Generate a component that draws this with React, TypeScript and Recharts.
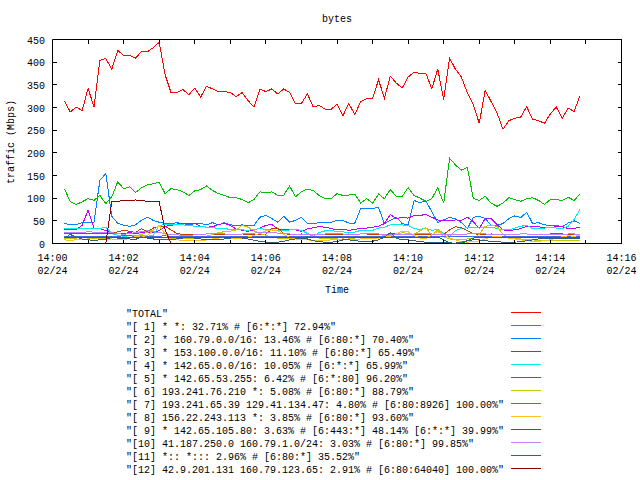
import React from 'react';
import { LineChart, Line, XAxis, YAxis, ReferenceArea } from 'recharts';

// sample times, seconds after 14:00
const times = [
  20, 30, 40, 50, 60, 70, 80, 90, 100, 110, 120, 130, 140, 150, 160, 170, 180, 190, 200, 210,
  220, 230, 240, 250, 260, 270, 280, 290, 300, 310, 320, 330, 340, 350, 360, 370, 380, 390, 400, 410,
  420, 430, 440, 450, 460, 470, 480, 490, 500, 510, 520, 530, 540, 550, 560, 570, 580, 590, 600, 610,
  620, 630, 640, 650, 660, 670, 680, 690, 700, 710, 720, 730, 740, 750, 760, 770, 780, 790, 800, 810,
  820, 830, 840, 850, 860, 870, 880, 890,
];

const xTicks = [0, 60, 120, 180, 240, 300, 360, 420, 480, 540, 600, 660, 720, 780, 840, 900, 960];
const yTicks = [0, 50, 100, 150, 200, 250, 300, 350, 400, 450];
const dateLabel = '02/24';

const legendLabels = [
  '"TOTAL"',
  '"[ 1] * *: 32.71% # [6:*:*] 72.94%"',
  '"[ 2] * 160.79.0.0/16: 13.46% # [6:80:*] 70.40%"',
  '"[ 3] * 153.100.0.0/16: 11.10% # [6:80:*] 65.49%"',
  '"[ 4] * 142.65.0.0/16: 10.05% # [6:*:*] 65.99%"',
  '"[ 5] * 142.65.53.255: 6.42% # [6:*:80] 96.20%"',
  '"[ 6] 193.241.76.210 *: 5.08% # [6:80:*] 88.79%"',
  '"[ 7] 193.241.65.39 129.41.134.47: 4.80% # [6:80:8926] 100.00%"',
  '"[ 8] 156.22.243.113 *: 3.85% # [6:80:*] 93.60%"',
  '"[ 9] * 142.65.105.80: 3.63% # [6:443:*] 48.14% [6:*:*] 39.99%"',
  '"[10] 41.187.250.0 160.79.1.0/24: 3.03% # [6:80:*] 99.85%"',
  '"[11] *:: *::: 2.96% # [6:80:*] 35.52%"',
  '"[12] 42.9.201.131 160.79.123.65: 2.91% # [6:80:64040] 100.00%"',
];

const colors = [
  '#ff0000', '#00c000', '#0080ff', '#c000ff', '#00eeee', '#c04000', '#c8c800',
  '#4169e1', '#ffc020', '#008040', '#c080ff', '#306080', '#8b0000',
];

const total = [
  315, 290, 301, 293, 342, 302, 404, 408, 384, 426, 415, 415, 409, 423, 423, 432, 444, 372, 333, 333,
  340, 328, 343, 323, 347, 341, 335, 335, 333, 324, 333, 315, 301, 341, 335, 341, 330, 341, 333, 308,
  309, 330, 301, 305, 296, 296, 307, 282, 309, 284, 313, 319, 319, 361, 321, 369, 354, 343, 367, 378,
  375, 375, 341, 385, 317, 409, 384, 367, 332, 306, 265, 338, 313, 288, 252, 271, 276, 279, 302, 274,
  271, 265, 286, 301, 276, 299, 291, 326,
];
const s1 = [
  121, 92, 86, 92, 99, 95, 106, 88, 103, 136, 121, 125, 112, 123, 129, 132, 135, 110, 121, 119,
  114, 106, 116, 119, 127, 117, 110, 106, 101, 101, 97, 90, 97, 114, 112, 114, 106, 106, 127, 103,
  114, 120, 117, 106, 99, 99, 110, 106, 107, 109, 89, 99, 89, 109, 99, 119, 104, 104, 123, 106,
  100, 93, 99, 123, 89, 188, 173, 162, 168, 99, 95, 104, 89, 82, 89, 101, 97, 93, 99, 101,
  95, 86, 97, 97, 95, 102, 95, 109,
];
const s2 = [
  44, 42, 42, 46, 46, 47, 140, 154, 60, 45, 40, 38, 41, 51, 58, 51, 47, 44, 44, 46,
  44, 41, 44, 44, 41, 46, 41, 46, 41, 40, 41, 40, 40, 58, 62, 55, 47, 60, 47, 51,
  58, 44, 44, 46, 46, 47, 51, 51, 45, 45, 77, 77, 77, 80, 44, 51, 58, 44, 41, 95,
  90, 94, 70, 46, 52, 58, 54, 46, 33, 58, 60, 55, 40, 40, 44, 55, 61, 57, 69, 44,
  46, 41, 40, 40, 37, 45, 50, 44,
];
const s3 = [
  31, 31, 31, 40, 73, 34, 33, 28, 25, 22, 22, 24, 22, 24, 24, 25, 28, 38, 40, 43,
  45, 45, 45, 38, 36, 37, 42, 44, 40, 32, 29, 27, 30, 34, 40, 42, 32, 31, 31, 30,
  27, 32, 35, 37, 36, 33, 30, 31, 29, 31, 34, 34, 36, 38, 44, 64, 55, 58, 56, 62,
  62, 64, 58, 52, 50, 50, 52, 51, 58, 48, 33, 55, 55, 42, 30, 29, 30, 33, 38, 37,
  37, 35, 35, 37, 37, 33, 33, 36,
];
const s4 = [
  32, 32, 32, 32, 32, 32, 33, 36, 22, 18, 16, 17, 17, 18, 16, 18, 40, 42, 41, 41,
  41, 40, 38, 38, 36, 35, 33, 33, 31, 30, 30, 29, 31, 33, 31, 30, 28, 28, 30, 31,
  29, 22, 16, 24, 28, 28, 27, 26, 23, 25, 29, 29, 29, 34, 36, 41, 41, 41, 40, 33,
  31, 34, 29, 31, 22, 16, 29, 33, 35, 36, 34, 36, 36, 33, 30, 30, 34, 38, 40, 33,
  34, 34, 36, 34, 33, 38, 53, 75,
];
const s5 = [
  21, 21, 21, 21, 21, 21, 21, 21, 22, 26, 29, 27, 24, 33, 26, 34, 38, 38, 30, 22,
  20, 20, 20, 20, 21, 21, 20, 20, 20, 20, 21, 20, 20, 20, 20, 33, 34, 22, 20, 20,
  21, 20, 20, 20, 20, 21, 20, 20, 20, 20, 21, 21, 20, 20, 20, 21, 21, 20, 20, 20,
  21, 20, 20, 20, 20, 30, 37, 35, 28, 22, 20, 20, 21, 20, 20, 20, 20, 21, 21, 20,
  20, 20, 21, 21, 21, 20, 20, 20,
];
const s6 = [
  12, 11, 12, 13, 12, 11, 12, 12, 12, 13, 14, 12, 16, 20, 25, 30, 38, 22, 12, 10,
  10, 11, 12, 14, 16, 20, 24, 26, 27, 30, 40, 36, 28, 22, 18, 14, 12, 12, 11, 12,
  12, 12, 13, 12, 11, 12, 12, 13, 12, 12, 13, 14, 15, 16, 17, 18, 20, 24, 22, 20,
  28, 35, 18, 30, 15, 10, 8, 8, 10, 12, 20, 38, 40, 38, 20, 12, 10, 10, 9, 8,
  7, 7, 7, 7, 7, 7, 7, 7,
];
const s7 = [
  15, 15, 16, 16, 16, 15, 15, 16, 16, 16, 17, 17, 16, 16, 16, 16, 16, 17, 16, 16,
  16, 16, 16, 16, 16, 16, 16, 16, 16, 16, 16, 16, 16, 16, 16, 16, 16, 16, 16, 16,
  16, 16, 16, 16, 16, 16, 16, 16, 16, 16, 16, 16, 16, 16, 16, 16, 16, 16, 16, 16,
  16, 16, 16, 16, 16, 16, 16, 16, 16, 16, 16, 16, 16, 16, 16, 16, 16, 16, 16, 16,
  16, 16, 16, 16, 16, 16, 16, 16,
];
const s8 = [
  8, 7, 8, 9, 8, 7, 8, 9, 10, 9, 8, 12, 15, 14, 18, 28, 40, 20, 9, 8,
  7, 7, 6, 6, 8, 10, 12, 14, 12, 10, 12, 14, 18, 22, 28, 30, 28, 20, 14, 10,
  8, 8, 7, 7, 6, 8, 9, 10, 9, 9, 10, 10, 11, 12, 14, 16, 22, 27, 26, 18,
  12, 10, 20, 26, 20, 12, 8, 4, 3, 4, 6, 10, 14, 16, 14, 12, 10, 8, 6, 5,
  5, 6, 8, 12, 15, 17, 16, 18,
];
const s9 = [
  13, 13, 13, 13, 13, 13, 13, 13, 13, 14, 14, 14, 14, 14, 14, 14, 14, 14, 14, 14,
  14, 14, 14, 14, 14, 14, 14, 14, 14, 14, 14, 14, 14, 14, 14, 14, 14, 14, 14, 14,
  14, 14, 14, 14, 14, 14, 14, 14, 14, 14, 14, 14, 14, 14, 14, 14, 14, 14, 14, 14,
  14, 14, 14, 14, 8, 2, 0, 0, 6, 12, 14, 14, 14, 14, 14, 14, 14, 14, 14, 14,
  14, 14, 14, 14, 14, 14, 14, 14,
];
const s10 = [
  24, 24, 25, 24, 26, 25, 24, 25, 24, 22, 20, 22, 24, 26, 28, 26, 24, 22, 20, 19,
  18, 18, 19, 20, 21, 22, 22, 21, 20, 20, 21, 22, 23, 24, 25, 24, 23, 22, 21, 20,
  20, 19, 19, 20, 21, 22, 22, 21, 20, 20, 21, 22, 22, 21, 20, 20, 19, 19, 20, 21,
  22, 22, 21, 20, 19, 19, 20, 20, 21, 22, 22, 21, 20, 20, 19, 19, 20, 21, 21, 20,
  20, 19, 19, 20, 20, 21, 21, 20,
];
const s11 = [
  12, 20, 14, 10, 8, 7, 8, 10, 13, 12, 11, 10, 9, 14, 12, 10, 8, 8, 9, 10,
  12, 14, 12, 10, 9, 8, 8, 10, 12, 14, 12, 10, 7, 5, 3, 2, 3, 5, 8, 10,
  12, 10, 6, 4, 3, 3, 4, 8, 8, 6, 5, 5, 5, 8, 14, 24, 12, 8, 8, 6,
  4, 3, 3, 3, 2, 1, 1, 3, 6, 8, 8, 6, 5, 4, 3, 3, 3, 4, 6, 8,
  10, 10, 10, 10, 11, 10, 10, 11,
];
// [12] only leaves the zero line for a short while
const s12Times = [80, 90, 100, 110, 120, 130, 140, 150, 160, 170, 180, 190, 200];
const s12 = [0, 0, 92, 93, 95, 95, 96, 95, 93, 92, 92, 30, 0];

const toPoints = (ts: number[], vs: number[]) => ts.map((t, i) => ({ t, v: vs[i] }));
const series = [
  ...[total, s1, s2, s3, s4, s5, s6, s7, s8, s9, s10, s11].map((vs) => toPoints(times, vs)),
  toPoints(s12Times, s12),
];

const W = 640;
const H = 480;
const LEFT = 52.5;
const RIGHT = 621.5;
const TOP = 39.5;
const BOTTOM = 243.5;
const FONT = '"Liberation Mono", "DejaVu Sans Mono", monospace';

const fmtTime = (t: number) => '14:' + String(t / 60).padStart(2, '0');

const XTick = ({ x, payload }: any) => {
  const v = payload.value;
  return (
    <g>
      <line x1={x} x2={x} y1={BOTTOM} y2={BOTTOM - 4} stroke="#000" shapeRendering="crispEdges" />
      <line x1={x} x2={x} y1={TOP} y2={TOP + 4} stroke="#000" shapeRendering="crispEdges" />
      {v % 120 === 0 && (
        <text x={x} y={BOTTOM + 17.5} textAnchor="middle" fontFamily={FONT} fontSize={10} fill="#000">
          {fmtTime(v)}
        </text>
      )}
      {v % 120 === 0 && (
        <text x={x} y={BOTTOM + 30} textAnchor="middle" fontFamily={FONT} fontSize={10} fill="#000">
          {dateLabel}
        </text>
      )}
    </g>
  );
};

const YTick = ({ y, payload }: any) => (
  <g>
    <line x1={LEFT} x2={LEFT + 4} y1={y} y2={y} stroke="#000" shapeRendering="crispEdges" />
    <line x1={RIGHT} x2={RIGHT - 4} y1={y} y2={y} stroke="#000" shapeRendering="crispEdges" />
    <text x={LEFT - 7.5} y={y + 4} textAnchor="end" fontFamily={FONT} fontSize={10} fill="#000">
      {payload.value}
    </text>
  </g>
);

export default function App() {
  return (
    <div style={{ position: 'relative', width: W, height: H, background: '#fff' }}>
      <style>{'body{margin:0}'}</style>
      <LineChart
        width={W}
        height={H}
        margin={{ top: TOP, right: W - RIGHT, left: 7.5, bottom: H - BOTTOM - 30 }}
      >
        <XAxis
          dataKey="t"
          type="number"
          domain={[0, 960]}
          ticks={xTicks}
          interval={0}
          height={30}
          tickSize={0}
          tickLine={false}
          axisLine={false}
          tick={<XTick />}
          allowDataOverflow
        />
        <YAxis
          type="number"
          domain={[0, 450]}
          ticks={yTicks}
          interval={0}
          width={45}
          tickSize={0}
          tickLine={false}
          axisLine={false}
          tick={<YTick />}
          allowDataOverflow
        />
        <ReferenceArea x1={0} x2={960} y1={0} y2={450} fill="none" stroke="#000" strokeWidth={1} />
        {series.map((d, i) => (
          <Line
            key={i}
            data={d}
            dataKey="v"
            type="linear"
            stroke={colors[i]}
            strokeWidth={1}
            dot={false}
            activeDot={false}
            isAnimationActive={false}
            shapeRendering="crispEdges"
          />
        ))}
      </LineChart>

      <svg
        width={W}
        height={H}
        style={{ position: 'absolute', left: 0, top: 0, pointerEvents: 'none' }}
        fontFamily={FONT}
        fontSize={10}
      >
        <text x={(LEFT + RIGHT) / 2} y={22} textAnchor="middle" fill="#000">bytes</text>
        <text x={(LEFT + RIGHT) / 2} y={293} textAnchor="middle" fill="#000">Time</text>
        <text
          x={14}
          y={142}
          textAnchor="middle"
          fill="#000"
          transform="rotate(-90 14 142)"
        >
          traffic (Mbps)
        </text>
        {legendLabels.map((label, i) => {
          const y = 312.5 + i * 13;
          return (
            <g key={i}>
              <text x={126} y={y + 4} fill="#000" style={{ whiteSpace: 'pre' }}>{label}</text>
              <line x1={511} x2={541} y1={y} y2={y} stroke={colors[i]} strokeWidth={1} shapeRendering="crispEdges" />
            </g>
          );
        })}
      </svg>
    </div>
  );
}
